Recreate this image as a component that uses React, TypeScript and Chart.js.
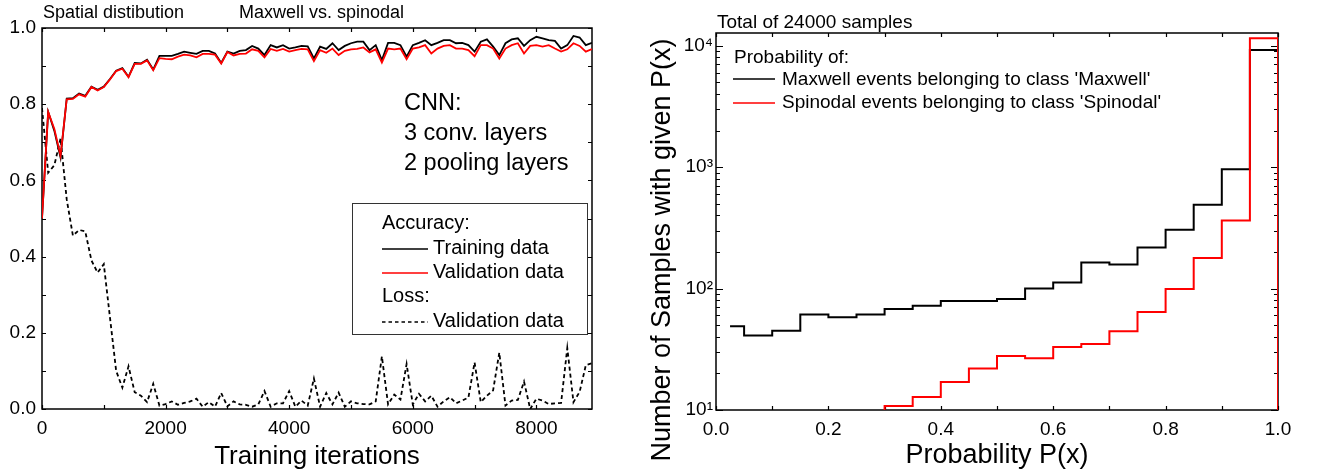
import React, { useEffect, useRef } from "react";
import { Chart, registerables } from "chart.js";

Chart.register(...registerables);

const FONT = '"Liberation Sans", Arial, Helvetica, sans-serif';

// ---------------- Left panel data ----------------
const ITER_STEP = 100;
const TRAIN_ACC = [
  0.5, 0.78, 0.73, 0.66, 0.815, 0.816, 0.828, 0.822, 0.846, 0.838,
  0.846, 0.866, 0.888, 0.895, 0.872, 0.908, 0.907, 0.917, 0.891, 0.927,
  0.927, 0.927, 0.932, 0.938, 0.935, 0.932, 0.94, 0.94, 0.933, 0.908,
  0.938, 0.933, 0.94, 0.942, 0.953, 0.946, 0.929, 0.955, 0.949, 0.955,
  0.946, 0.949, 0.953, 0.952, 0.92, 0.951, 0.945, 0.96, 0.942, 0.953,
  0.96, 0.964, 0.964, 0.942, 0.955, 0.916, 0.961, 0.961, 0.955, 0.925,
  0.955, 0.961, 0.968, 0.955, 0.961, 0.968, 0.968, 0.96, 0.961, 0.955,
  0.938, 0.964, 0.97, 0.951, 0.929, 0.96, 0.97, 0.973, 0.953, 0.968,
  0.977, 0.973, 0.968, 0.966, 0.946, 0.955, 0.979, 0.975, 0.955, 0.961,
];
const VALID_ACC = [
  0.5, 0.78, 0.735, 0.665, 0.813, 0.814, 0.826, 0.82, 0.845, 0.836,
  0.845, 0.865, 0.887, 0.893, 0.871, 0.906, 0.906, 0.915, 0.889, 0.921,
  0.919, 0.918, 0.925, 0.93, 0.928, 0.923, 0.932, 0.932, 0.93, 0.907,
  0.937, 0.928, 0.932, 0.933, 0.944, 0.94, 0.923, 0.945, 0.94, 0.945,
  0.938, 0.942, 0.945, 0.944, 0.913, 0.942, 0.935, 0.946, 0.929, 0.94,
  0.944, 0.945, 0.949, 0.936, 0.944, 0.909, 0.946, 0.944, 0.946, 0.918,
  0.946, 0.949, 0.955, 0.933, 0.946, 0.953, 0.955, 0.946, 0.946, 0.942,
  0.926, 0.955, 0.955, 0.946, 0.92, 0.946, 0.955, 0.96, 0.933, 0.953,
  0.955, 0.951, 0.955, 0.946, 0.938, 0.944, 0.96, 0.953, 0.938, 0.945,
];
const VALID_LOSS = [
  0.79, 0.62, 0.64, 0.71, 0.55, 0.455, 0.47, 0.466, 0.39, 0.358,
  0.38, 0.24, 0.1, 0.056, 0.112, 0.044, 0.035, 0.018, 0.066, 0.009,
  0.013, 0.02, 0.011, 0.016, 0.02, 0.027, 0.006, 0.018, 0.006, 0.042,
  0.007, 0.02, 0.012, 0.011, 0.006, 0.012, 0.047, 0.006, 0.015, 0.015,
  0.047, 0.006, 0.022, 0.009, 0.08, 0.006, 0.042, 0.012, 0.043, 0.006,
  0.02, 0.015, 0.013, 0.012, 0.02, 0.138, 0.012, 0.038, 0.025, 0.118,
  0.012, 0.04, 0.02, 0.035, 0.006, 0.02, 0.031, 0.015, 0.022, 0.03,
  0.122, 0.018, 0.035, 0.049, 0.148, 0.009, 0.022, 0.024, 0.072, 0.0,
  0.027, 0.022, 0.013, 0.015, 0.016, 0.16, 0.018, 0.045, 0.115, 0.12,
];
const ITERATIONS = TRAIN_ACC.map((_, i) => i * ITER_STEP);
const LEFT_X_MAX = 8900;
const LEFT_X_TICKS = [0, 1000, 2000, 3000, 4000, 5000, 6000, 7000, 8000];
const LEFT_X_LABELS = ["0", "", "2000", "", "4000", "", "6000", "", "8000"];
const LEFT_Y_TICKS = [0, 0.1, 0.2, 0.3, 0.4, 0.5, 0.6, 0.7, 0.8, 0.9, 1.0];
const LEFT_Y_LABELS = ["0.0", "", "0.2", "", "0.4", "", "0.6", "", "0.8", "", "1.0"];

// ---------------- Right panel data ----------------
const MAXWELL_EDGES = [
  0.025, 0.05, 0.1, 0.15, 0.2, 0.25, 0.3, 0.35, 0.4, 0.45,
  0.5, 0.55, 0.6, 0.65, 0.7, 0.75, 0.8, 0.85, 0.9, 0.95,
];
const MAXWELL_COUNTS = [
  49, 41, 45, 61, 58, 61, 68, 72, 79, 79,
  82, 100, 112, 164, 158, 218, 305, 490, 960, 9200,
];
const SPINODAL_EDGES = [
  0.3, 0.35, 0.4, 0.45, 0.5, 0.55, 0.6, 0.65, 0.7, 0.75, 0.8, 0.85, 0.9, 0.95,
];
const SPINODAL_COUNTS = [
  10.8, 12.8, 17, 22, 27.8, 26.7, 33, 35, 44.6, 64, 99, 178, 364, 11500,
];
const HIST_END = 1.0;
const RIGHT_X_TICKS = [0, 0.1, 0.2, 0.3, 0.4, 0.5, 0.6, 0.7, 0.8, 0.9, 1.0];
const RIGHT_X_LABELS = ["0.0", "", "0.2", "", "0.4", "", "0.6", "", "0.8", "", "1.0"];
const LOG_MIN = 10;
const LOG_MAX = 12700;
const LOG_FLOOR = 1;
const LOG_LABELS: Record<number, string> = { 10: "10¹", 100: "10²", 1000: "10³", 10000: "10⁴" };

type Pt = { x: number; y: number };
function stepPoints(edges: number[], counts: number[], end: number, rise: boolean): Pt[] {
  const pts: Pt[] = [];
  if (rise) pts.push({ x: edges[0], y: LOG_FLOOR });
  edges.forEach((e, i) => pts.push({ x: e, y: counts[i] }));
  pts.push({ x: end, y: LOG_FLOOR });
  return pts;
}

function setTicks(values: number[]) {
  return (s: any) => {
    s.ticks = values.map((v) => ({ value: v }));
  };
}
function labelFrom(values: number[], labels: string[]) {
  return (v: any) => {
    const i = values.findIndex((t) => Math.abs(t - Number(v)) < 1e-9);
    return i >= 0 ? labels[i] : "";
  };
}

// ---------------- Plugins ----------------
type TextItem = { text: string; x: number; y: number; size: number; rotate?: boolean };
type LineItem = { x1: number; x2: number; y: number; color: string; dash?: number[] };

const frameTicksPlugin = {
  id: "frameTicks",
  beforeDatasetsDraw(chart: any, _args: any, opts: any) {
    const { ctx, chartArea: a } = chart;
    ctx.save();
    ctx.strokeStyle = "#000";
    ctx.lineWidth = 1.5;
    ctx.strokeRect(a.left, a.top, a.right - a.left, a.bottom - a.top);
    ctx.lineWidth = 1.2;
    const xs = chart.scales.x;
    const ys = chart.scales.y;
    ctx.beginPath();
    xs.ticks.forEach((t: any) => {
      const px = Math.round(xs.getPixelForValue(t.value)) + 0.5;
      const len = opts.xLen;
      ctx.moveTo(px, a.bottom);
      ctx.lineTo(px, a.bottom - len);
      ctx.moveTo(px, a.top);
      ctx.lineTo(px, a.top + len);
    });
    ys.ticks.forEach((t: any) => {
      const py = Math.round(ys.getPixelForValue(t.value)) + 0.5;
      const len = opts.yLen(t.value);
      ctx.moveTo(a.left, py);
      ctx.lineTo(a.left + len, py);
      ctx.moveTo(a.right, py);
      ctx.lineTo(a.right - len, py);
    });
    ctx.stroke();
    ctx.restore();
  },
};

const annotatePlugin = {
  id: "annotate",
  afterDraw(chart: any, _args: any, opts: any) {
    const { ctx } = chart;
    ctx.save();
    if (opts.box) {
      const b = opts.box;
      ctx.fillStyle = "#fff";
      ctx.fillRect(b.x, b.y, b.w, b.h);
      ctx.strokeStyle = "#333";
      ctx.lineWidth = 1;
      ctx.strokeRect(b.x + 0.5, b.y + 0.5, b.w, b.h);
    }
    (opts.lines || []).forEach((l: LineItem) => {
      ctx.beginPath();
      ctx.strokeStyle = l.color;
      ctx.lineWidth = 1.6;
      ctx.setLineDash(l.dash || []);
      ctx.moveTo(l.x1, l.y);
      ctx.lineTo(l.x2, l.y);
      ctx.stroke();
    });
    ctx.setLineDash([]);
    ctx.fillStyle = "#000";
    (opts.texts || []).forEach((t: TextItem) => {
      ctx.font = `${t.size}px ${FONT}`;
      if (t.rotate) {
        ctx.save();
        ctx.translate(t.x, t.y);
        ctx.rotate(-Math.PI / 2);
        ctx.textAlign = "center";
        ctx.textBaseline = "middle";
        ctx.fillText(t.text, 0, 0);
        ctx.restore();
      } else {
        ctx.textAlign = "left";
        ctx.textBaseline = "alphabetic";
        ctx.fillText(t.text, t.x, t.y);
      }
    });
    ctx.restore();
  },
};

const TICK_FONT = { family: FONT, size: 19 };

function LeftChart() {
  const ref = useRef<HTMLCanvasElement>(null);
  useEffect(() => {
    const toPts = (vals: number[]) => vals.map((v, i) => ({ x: ITERATIONS[i], y: v }));
    const chart = new Chart(ref.current!, {
      type: "line",
      data: {
        datasets: [
          { label: "Validation accuracy", data: toPts(VALID_ACC), borderColor: "#ff0000", borderWidth: 1.8, pointRadius: 0, tension: 0 },
          { label: "Training accuracy", data: toPts(TRAIN_ACC), borderColor: "#000", borderWidth: 1.8, pointRadius: 0, tension: 0 },
          { label: "Validation loss", data: toPts(VALID_LOSS), borderColor: "#000", borderWidth: 1.8, borderDash: [4, 3], pointRadius: 0, tension: 0 },
        ],
      },
      options: {
        responsive: false,
        animation: false,
        events: [],
        layout: { padding: { top: 28, right: 48, left: 0, bottom: 0 } },
        plugins: {
          legend: { display: false },
          tooltip: { enabled: false },
          frameTicks: { xLen: 4, yLen: () => 4 },
          annotate: {
            box: { x: 352, y: 203, w: 235, h: 131 },
            lines: [
              { x1: 382, x2: 428, y: 249, color: "#000" },
              { x1: 382, x2: 428, y: 273, color: "#ff0000" },
              { x1: 382, x2: 428, y: 322, color: "#000", dash: [3.5, 3] },
            ],
            texts: [
              { text: "Spatial distibution", x: 43, y: 18, size: 18 },
              { text: "Maxwell vs. spinodal", x: 239, y: 18, size: 18 },
              { text: "CNN:", x: 404, y: 110, size: 23.5 },
              { text: "3 conv. layers", x: 404, y: 140, size: 23.5 },
              { text: "2 pooling layers", x: 404, y: 170, size: 23.5 },
              { text: "Accuracy:", x: 382, y: 229, size: 20 },
              { text: "Training data", x: 433, y: 254, size: 20 },
              { text: "Validation data", x: 433, y: 278, size: 20 },
              { text: "Loss:", x: 382, y: 302, size: 20 },
              { text: "Validation data", x: 433, y: 327, size: 20 },
            ],
          },
        } as any,
        scales: {
          x: {
            type: "linear",
            min: 0,
            max: LEFT_X_MAX,
            grid: { display: false, drawTicks: false },
            border: { display: false },
            afterFit: (s: any) => { s.height = 63; },
            afterBuildTicks: setTicks(LEFT_X_TICKS),
            ticks: {
              autoSkip: false,
              maxRotation: 0,
              padding: 8,
              color: "#000",
              font: TICK_FONT,
              callback: labelFrom(LEFT_X_TICKS, LEFT_X_LABELS),
            },
            title: { display: true, text: "Training iterations", color: "#000", font: { family: FONT, size: 26 }, padding: 0 },
          },
          y: {
            type: "linear",
            min: 0,
            max: 1,
            grid: { display: false, drawTicks: false },
            border: { display: false },
            afterFit: (s: any) => { s.width = 42; },
            afterBuildTicks: setTicks(LEFT_Y_TICKS),
            ticks: {
              autoSkip: false,
              padding: 6,
              color: "#000",
              font: TICK_FONT,
              callback: labelFrom(LEFT_Y_TICKS, LEFT_Y_LABELS),
            },
          },
        },
      },
      plugins: [frameTicksPlugin, annotatePlugin],
    });
    return () => chart.destroy();
  }, []);
  return <canvas ref={ref} width={640} height={472} style={{ position: "absolute", left: 0, top: 0 }} />;
}

function RightChart() {
  const ref = useRef<HTMLCanvasElement>(null);
  useEffect(() => {
    const chart = new Chart(ref.current!, {
      type: "line",
      data: {
        datasets: [
          { label: "Spinodal", data: stepPoints(SPINODAL_EDGES, SPINODAL_COUNTS, HIST_END, true), borderColor: "#ff0000", borderWidth: 2, pointRadius: 0, stepped: "before" },
          { label: "Maxwell", data: stepPoints(MAXWELL_EDGES, MAXWELL_COUNTS, HIST_END, false), borderColor: "#000", borderWidth: 2, pointRadius: 0, stepped: "before" },
        ],
      },
      options: {
        responsive: false,
        animation: false,
        events: [],
        layout: { padding: { top: 33, right: 39, left: 0, bottom: 0 } },
        plugins: {
          legend: { display: false },
          tooltip: { enabled: false },
          frameTicks: { xLen: 4, yLen: (v: number) => (LOG_LABELS[v] ? 7 : 4) },
          annotate: {
            lines: [
              { x1: 93, x2: 135, y: 79, color: "#000" },
              { x1: 93, x2: 135, y: 103, color: "#ff0000" },
            ],
            texts: [
              { text: "Total of 24000 samples", x: 77, y: 28, size: 19 },
              { text: "Probability of:", x: 94, y: 63, size: 19 },
              { text: "Maxwell events belonging to class 'Maxwell'", x: 142, y: 85, size: 19 },
              { text: "Spinodal events belonging to class 'Spinodal'", x: 142, y: 108, size: 19 },
              { text: "Number of Samples with given P(x)", x: 23, y: 250, size: 27, rotate: true },
            ],
          },
        } as any,
        scales: {
          x: {
            type: "linear",
            min: 0,
            max: 1,
            grid: { display: false, drawTicks: false },
            border: { display: false },
            afterFit: (s: any) => { s.height = 62; },
            afterBuildTicks: setTicks(RIGHT_X_TICKS),
            ticks: {
              autoSkip: false,
              maxRotation: 0,
              padding: 8,
              color: "#000",
              font: TICK_FONT,
              callback: labelFrom(RIGHT_X_TICKS, RIGHT_X_LABELS),
            },
            title: { display: true, text: "Probability P(x)", color: "#000", font: { family: FONT, size: 27 }, padding: 0 },
          },
          y: {
            type: "logarithmic",
            min: LOG_MIN,
            max: LOG_MAX,
            grid: { display: false, drawTicks: false },
            border: { display: false },
            afterFit: (s: any) => { s.width = 76; },
            afterBuildTicks: (s: any) => {
              const ticks: { value: number }[] = [];
              for (let d = 10; d <= 10000; d *= 10) {
                for (let m = 1; m <= 9; m++) {
                  const v = d * m;
                  if (v >= LOG_MIN && v <= LOG_MAX) ticks.push({ value: v });
                }
              }
              s.ticks = ticks;
            },
            ticks: {
              autoSkip: false,
              padding: 3,
              color: "#000",
              font: TICK_FONT,
              callback: (v: any) => LOG_LABELS[Number(v)] || "",
            },
          },
        },
      },
      plugins: [frameTicksPlugin, annotatePlugin],
    });
    return () => chart.destroy();
  }, []);
  return <canvas ref={ref} width={677} height={472} style={{ position: "absolute", left: 640, top: 0 }} />;
}

export default function App() {
  return (
    <div style={{ position: "fixed", left: 0, top: 0, width: 1317, height: 472, background: "#fff", overflow: "hidden" }}>
      <LeftChart />
      <RightChart />
    </div>
  );
}
